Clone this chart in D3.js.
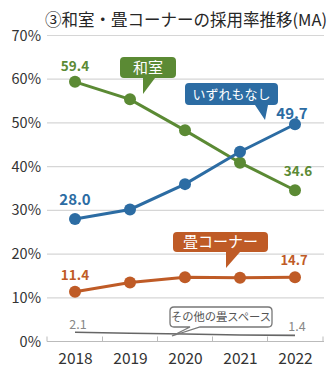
<!DOCTYPE html>
<html><head><meta charset="utf-8">
<script src="https://cdn.jsdelivr.net/npm/d3@7"></script>
<style>body{margin:0;background:#fff}svg{display:block}text{font-family:"Noto Sans CJK JP","Noto Sans",sans-serif}</style>
</head><body><svg id="c" width="335" height="376"></svg>
<script>
const years = ["2018","2019","2020","2021","2022"];
const washitsu = [59.4, 55.4, 48.3, 40.9, 34.6];
const nashi = [28.0, 30.2, 36.0, 43.4, 49.7];
const tatamiCorner = [11.4, 13.5, 14.7, 14.6, 14.7];
const sonota = [2.1, 1.9, 1.7, 1.5, 1.4];
const yTicks = [0,10,20,30,40,50,60,70];
const title = "③和室・畳コーナーの採用率推移(MA)";

const svg = d3.select("#c");
const x = d3.scalePoint().domain(years).range([75,295]);
const y = d3.scaleLinear().domain([0,70]).range([341.5,35.5]);

svg.append("text").attr("x",186).attr("y",26).attr("text-anchor","middle")
  .attr("font-size",16.5).attr("fill","#262626").text(title);

// grid
svg.selectAll(".g").data(yTicks.filter(d=>d>0)).enter().append("line")
  .attr("x1",47).attr("x2",324).attr("y1",d=>y(d)).attr("y2",d=>y(d))
  .attr("stroke","#d6d6d6").attr("stroke-width",1.2);
svg.selectAll(".yl").data(yTicks).enter().append("text")
  .attr("x",41).attr("y",d=>y(d)+5).attr("text-anchor","end")
  .attr("font-size",14.5).attr("fill","#333").text(d=>d+"%");

// x axis
const xa = svg.append("g").attr("transform",`translate(0,${y(0)})`)
  .call(d3.axisBottom(x).tickSize(0).tickPadding(11).tickFormat(d=>d));
xa.select(".domain").attr("stroke","#bbb").attr("d","M47,0H324");
xa.selectAll("text").attr("font-size",15.5).attr("fill","#333")
  .attr("font-family","'Noto Sans','Open Sans',sans-serif");
const bounds = [47,102.5,157.5,212.5,267.5,323];
svg.selectAll(".tk").data(bounds).enter().append("line")
  .attr("x1",d=>d).attr("x2",d=>d).attr("y1",y(0)-5).attr("y2",y(0))
  .attr("stroke","#bbb");

const line = d3.line().x((d,i)=>x(years[i])).y(d=>y(d));
function series(vals,color,w,markers){
  svg.append("path").attr("d",line(vals)).attr("fill","none")
    .attr("stroke",color).attr("stroke-width",w);
  if(markers) svg.selectAll(null).data(vals).enter().append("circle")
    .attr("cx",(d,i)=>x(years[i])).attr("cy",d=>y(d)).attr("r",6).attr("fill",color);
}
const cG="#5b8a34", cB="#2c6ca3", cO="#bf5b26", cGr="#666";
series(sonota,cGr,1.6,false);
series(tatamiCorner,cO,3,true);
series(washitsu,cG,3,true);
series(nashi,cB,3,true);

function lbl(xx,yy,t,c,bold,size){
  svg.append("text").attr("x",xx).attr("y",yy).attr("text-anchor","middle")
   .attr("font-size",size||14).attr("font-weight",bold?"bold":"normal").attr("fill",c)
   .attr("font-family","'Noto Sans','Open Sans',sans-serif").text(t);
}
lbl(x("2018"),y(59.4)-11,"59.4",cG,true,13.5);
lbl(x("2018"),y(28.0)-14,"28.0",cB,true,15);
lbl(x("2018"),y(11.4)-12,"11.4",cO,true,13.5);
lbl(x("2018")+3,y(2.1)-3,"2.1","#888",false,12.5);
lbl(x("2022")-3,y(49.7)-5,"49.7",cB,true,15);
lbl(x("2022")+3,y(34.6)-14,"34.6",cG,true,13.5);
lbl(x("2022")-1,y(14.7)-12,"14.7",cO,true,13);
lbl(x("2022")+2,y(1.4)-4,"1.4","#888",false,12.5);

function callout(x0,y0,w,h,px1,px2,tipx,tipy,text,fill,stroke,tc,fs){
  const r=4;
  const p=`M${x0+r},${y0}H${x0+w-r}Q${x0+w},${y0} ${x0+w},${y0+r}V${y0+h-r}Q${x0+w},${y0+h} ${x0+w-r},${y0+h}`+
    `H${px2}L${tipx},${tipy}L${px1},${y0+h}H${x0+r}Q${x0},${y0+h} ${x0},${y0+h-r}V${y0+r}Q${x0},${y0} ${x0+r},${y0}Z`;
  svg.append("path").attr("d",p).attr("fill",fill).attr("stroke",stroke||"none").attr("stroke-width",1.3);
  svg.append("text").attr("x",x0+w/2).attr("y",y0+h/2+fs*0.36).attr("text-anchor","middle")
    .attr("font-size",fs).attr("fill",tc).text(text);
}
callout(120,57,56,21,143,155,143,94,"和室",cG,null,"#fff",15);
callout(185,83,93,22,255,268,265,120,"いずれもなし",cB,null,"#fff",13);
callout(173,232,95,20,226,240,226,268,"畳コーナー",cO,null,"#fff",15);
callout(170,307,102,20,190,200,172,336,"その他の畳スペース","#fff","#777","#555",11.3);
</script></body></html>
